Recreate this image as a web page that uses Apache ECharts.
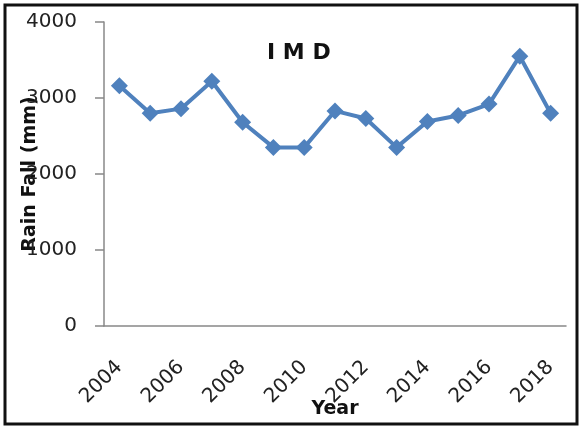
<!DOCTYPE html>
<html><head><meta charset="utf-8">
<script src="https://cdn.jsdelivr.net/npm/echarts@6/dist/echarts.min.js"></script>
<style>html,body{margin:0;padding:0;background:#fff}#c{width:582px;height:430px}</style>
</head><body><div id="c"></div>
<script>
const years = ['2004','2005','2006','2007','2008','2009','2010','2011','2012','2013','2014','2015','2016','2017','2018'];
const rainfall = [3160, 2800, 2860, 3220, 2680, 2350, 2350, 2830, 2730, 2350, 2690, 2770, 2920, 3550, 2800];
const yTicks = [0, 1000, 2000, 3000, 4000];
const chartTitle = 'I M D';
const xName = 'Year';
const yName = 'Rain Fall (mm)';

const chart = echarts.init(document.getElementById('c'));
const font = '"DejaVu Sans", sans-serif';
chart.setOption({
  animation: false,
  title: { text: chartTitle, left: 262, top: 37,
    textStyle: { fontFamily: font, fontWeight: 'bold', fontSize: 22, color: '#111' } },
  graphic: [{ type: 'rect', shape: { x: 5, y: 5, width: 572, height: 419 },
    style: { fill: 'none', stroke: '#111', lineWidth: 3 } }],
  grid: { left: 104, right: 16, top: 22, bottom: 104, containLabel: false, outerBoundsMode: 'none' },
  xAxis: {
    type: 'category', data: years, boundaryGap: true,
    name: xName, nameLocation: 'middle', nameGap: 74, nameMoveOverlap: false,
    nameTextStyle: { fontFamily: font, fontWeight: 'bold', fontSize: 19, color: '#111' },
    axisLine: { lineStyle: { color: '#888', width: 1.5 } },
    axisTick: { interval: 1, length: 9, lineStyle: { color: '#888', width: 1.5 } },
    axisLabel: { interval: 1, rotate: 45, margin: 38, fontFamily: font, fontSize: 20, color: '#222' }
  },
  yAxis: {
    type: 'value', min: yTicks[0], max: yTicks[yTicks.length-1], interval: 1000,
    name: yName, nameLocation: 'middle', nameGap: 64, nameMoveOverlap: false,
    nameTextStyle: { fontFamily: font, fontWeight: 'bold', fontSize: 19, color: '#111' },
    axisLine: { show: true, lineStyle: { color: '#888', width: 1.5 } },
    axisTick: { show: true, length: 9, lineStyle: { color: '#888', width: 1.5 } },
    splitLine: { show: false },
    axisLabel: { margin: 27, align: 'right', fontFamily: font, fontSize: 20, color: '#222', formatter: v => String(v) }
  },
  series: [{
    type: 'line', data: rainfall, symbol: 'diamond', symbolSize: 17,
    lineStyle: { color: '#4f81bd', width: 4 },
    itemStyle: { color: '#4f81bd' }
  }]
});
</script></body></html>
